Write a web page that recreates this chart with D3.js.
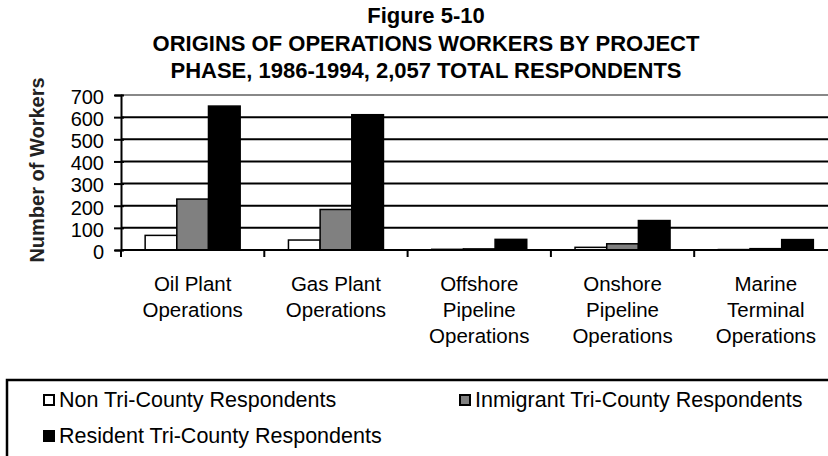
<!DOCTYPE html>
<html>
<style>
    body { margin: 0; background: #fff; }
    text { font-family: "Liberation Sans", Arial, sans-serif; fill: #000; }
    .title { font-size: 22px; font-weight: bold; }
    .tick-label { font-size: 20px; }
    .cat-label { font-size: 20.5px; }
    .legend-label { font-size: 21.5px; }
</style>
<script src="https://d3js.org/d3.v7.min.js"></script>
<body>
<svg width="828" height="456"></svg>
<script>
    const titleLines = ["Figure 5-10", "ORIGINS OF OPERATIONS WORKERS BY PROJECT", "PHASE, 1986-1994, 2,057 TOTAL RESPONDENTS"];
    const categories = [
        ["Oil Plant", "Operations"],
        ["Gas Plant", "Operations"],
        ["Offshore", "Pipeline", "Operations"],
        ["Onshore", "Pipeline", "Operations"],
        ["Marine", "Terminal", "Operations"]
    ];
    const seriesNames = ["Non Tri-County Respondents", "Inmigrant Tri-County Respondents", "Resident Tri-County Respondents"];
    const seriesColors = ["#ffffff", "#808080", "#000000"];
    const nonTriCounty = [66, 45, 3, 12, 2];
    const inmigrantTriCounty = [230, 183, 5, 28, 6];
    const residentTriCounty = [650, 611, 48, 133, 47];
    const yTicks = [0, 100, 200, 300, 400, 500, 600, 700];

    const svg = d3.select("svg");

    const plotLeft = 121, plotTop = 95, plotBottom = 250;
    const step = 143.3;
    const plotRight = plotLeft + step * categories.length;

    const y = d3.scaleLinear().domain([0, 700]).range([plotBottom, plotTop]);
    const x0 = d3.scaleBand()
        .domain(d3.range(categories.length))
        .range([plotLeft, plotRight])
        .paddingInner(0.337)
        .paddingOuter(0.1685);
    const x1 = d3.scaleBand()
        .domain(d3.range(3))
        .range([0, x0.bandwidth()]);

    // title
    titleLines.forEach((t, i) => {
        svg.append("text").attr("class", "title")
            .attr("x", 426).attr("y", 23 + i * 27.5)
            .attr("text-anchor", "middle")
            .text(t);
    });

    // gridlines
    svg.append("g").selectAll("line")
        .data(yTicks.filter(d => d > 0))
        .join("line")
        .attr("x1", plotLeft).attr("x2", 828)
        .attr("y1", d => y(d)).attr("y2", d => y(d))
        .attr("stroke", d => d === 700 ? "#888" : "#000")
        .attr("stroke-width", 2);

    // y axis
    const yAxis = d3.axisLeft(y).tickValues(yTicks).tickSize(6).tickPadding(11);
    const gy = svg.append("g").attr("transform", `translate(${plotLeft},0)`).call(yAxis);
    gy.attr("font-size", null).attr("font-family", null);
    gy.select(".domain").attr("stroke", "#000").attr("stroke-width", 2);
    gy.selectAll(".tick line").attr("stroke", "#000").attr("stroke-width", 2).attr("x1", 3).attr("x2", -7);
    gy.selectAll(".tick text").attr("class", "tick-label").attr("fill", "#000").attr("dy", "0.42em");

    svg.append("text")
        .attr("transform", "translate(44,170) rotate(-90)")
        .attr("text-anchor", "middle")
        .style("font-size", "20px")
        .style("font-weight", "bold")
        .style("fill", "#222")
        .text("Number of Workers");

    // bars
    const series = [nonTriCounty, inmigrantTriCounty, residentTriCounty];
    const groups = svg.append("g").selectAll("g")
        .data(categories.map((c, i) => i))
        .join("g")
        .attr("transform", i => `translate(${x0(i)},0)`);
    groups.selectAll("rect")
        .data(i => series.map((s, k) => ({k: k, v: s[i]})))
        .join("rect")
        .attr("x", d => x1(d.k))
        .attr("width", x1.bandwidth())
        .attr("y", d => y(d.v))
        .attr("height", d => plotBottom - y(d.v))
        .attr("fill", d => seriesColors[d.k])
        .attr("stroke", "#000")
        .attr("stroke-width", 1.5);

    // x axis line and ticks
    svg.append("line")
        .attr("x1", plotLeft).attr("x2", 828)
        .attr("y1", plotBottom).attr("y2", plotBottom)
        .attr("stroke", "#000").attr("stroke-width", 2);
    svg.append("g").selectAll("line")
        .data(d3.range(categories.length + 1))
        .join("line")
        .attr("x1", i => plotLeft + i * step).attr("x2", i => plotLeft + i * step)
        .attr("y1", plotBottom).attr("y2", plotBottom + 7)
        .attr("stroke", "#000").attr("stroke-width", 2);

    // category labels
    categories.forEach((lines, i) => {
        const t = svg.append("text").attr("class", "cat-label")
            .attr("x", x0(i) + x0.bandwidth() / 2)
            .attr("y", 291)
            .attr("text-anchor", "middle");
        lines.forEach((l, j) => {
            t.append("tspan").attr("x", x0(i) + x0.bandwidth() / 2)
                .attr("dy", j === 0 ? 0 : 26).text(l);
        });
    });

    // legend
    svg.append("rect")
        .attr("x", 7).attr("y", 380).attr("width", 840).attr("height", 100)
        .attr("fill", "none").attr("stroke", "#000").attr("stroke-width", 2.5);
    const legendPos = [[43, 407], [459, 407], [43, 443]];
    seriesNames.forEach((name, k) => {
        const [lx, ly] = legendPos[k];
        svg.append("rect")
            .attr("x", lx + 1).attr("y", ly - 12).attr("width", 10).attr("height", 10)
            .attr("fill", seriesColors[k]).attr("stroke", "#000").attr("stroke-width", 2);
        svg.append("text").attr("class", "legend-label")
            .attr("x", lx + 16).attr("y", ly)
            .text(name);
    });
</script>
</body>
</html>
